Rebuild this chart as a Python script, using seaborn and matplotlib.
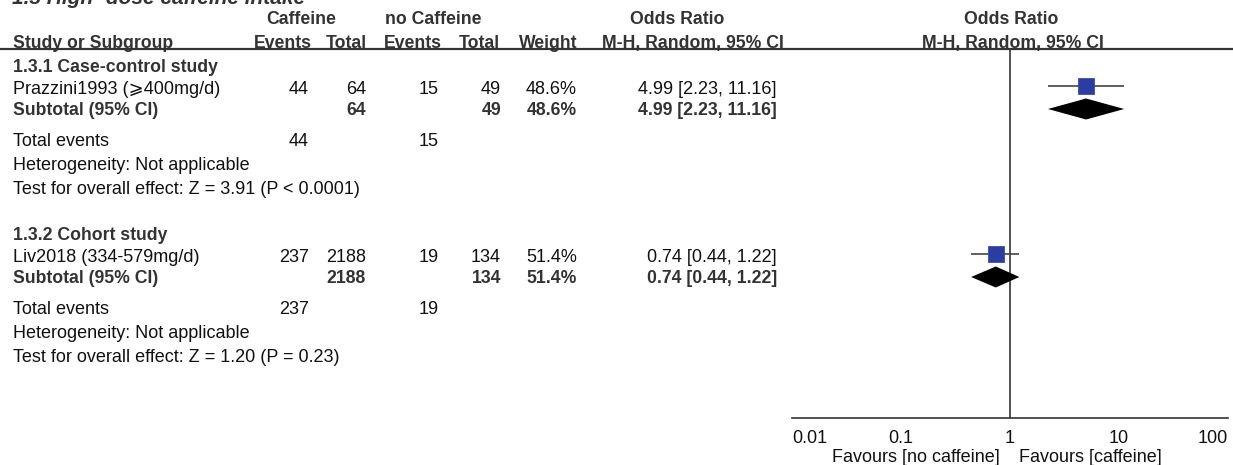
import matplotlib
matplotlib.use('Agg')
import matplotlib.pyplot as plt
import numpy as np
import pandas as pd
import seaborn as sns

# data
subgroups = ['1.3.1 Case-control study', '1.3.2 Cohort study']
studies = ['Prazzini1993 (\u2a7e400mg/d)', 'Liv2018 (334-579mg/d)']
caf_events = [44, 237]
caf_total = [64, 2188]
no_events = [15, 19]
no_total = [49, 134]
weights = [48.6, 51.4]
odds = [4.99, 0.74]
ci_low = [2.23, 0.44]
ci_high = [11.16, 1.22]
overall_tests = ['Z = 3.91 (P < 0.0001)', 'Z = 1.20 (P = 0.23)']
axis_ticks = [0.01, 0.1, 1, 10, 100]
axis_labels = ['0.01', '0.1', '1', '10', '100']
favours = ['Favours [no caffeine]', 'Favours [caffeine]']
title = '1.3 High- dose caffeine intake'

W, H = 1233, 465
TXT = '#111111'
BOLD = '#333333'
BLUE = '#2B3DA0'
FS = 13
FSB = 12.7

sns.set_style('white')
plt.rcParams['font.family'] = ['Liberation Sans', 'DejaVu Sans']

fig = plt.figure(figsize=(W / 100, H / 100), dpi=100)
ax = fig.add_axes([0, 0, 1, 1])
ax.set_xlim(0, W)
ax.set_ylim(H, 0)
ax.axis('off')


def put(x, y, s, ha='left', bold=False, size=None):
    ax.text(x, y + 6.5, s, ha=ha, va='baseline',
            fontsize=size or (FSB if bold else FS),
            fontweight='bold' if bold else 'normal',
            color=BOLD if bold else TXT)


# title (cut off at the top edge like the source)
ax.text(12, 4, title, ha='left', va='baseline', fontsize=15,
        fontweight='bold', fontstyle='italic', color=BOLD)

# header rows
put(301, 17, 'Caffeine', ha='center', bold=True)
put(433, 17, 'no Caffeine', ha='center', bold=True)
put(677, 17, 'Odds Ratio', ha='center', bold=True)
put(1011, 17, 'Odds Ratio', ha='center', bold=True)
hy = 41.5
put(13, hy, 'Study or Subgroup', bold=True)
put(312, hy, 'Events', ha='right', bold=True)
put(367, hy, 'Total', ha='right', bold=True)
put(442, hy, 'Events', ha='right', bold=True)
put(500, hy, 'Total', ha='right', bold=True)
put(577, hy, 'Weight', ha='right', bold=True)
put(693, hy, 'M-H, Random, 95% CI', ha='center', bold=True)
put(1013, hy, 'M-H, Random, 95% CI', ha='center', bold=True)
ax.plot([0, W], [49, 49], color=BOLD, lw=1.6, solid_capstyle='butt')

# table body
group_offset = 168
study_rows = []
sub_rows = []
for i in range(len(studies)):
    y0 = 65 + i * group_offset
    ci_txt = f'{odds[i]:.2f} [{ci_low[i]:.2f}, {ci_high[i]:.2f}]'
    put(13, y0, subgroups[i], bold=True)
    ys = y0 + 22
    put(13, ys, studies[i])
    put(309, ys, str(caf_events[i]), ha='right')
    put(366, ys, str(caf_total[i]), ha='right')
    put(439, ys, str(no_events[i]), ha='right')
    put(501, ys, str(no_total[i]), ha='right')
    put(577, ys, f'{weights[i]:.1f}%', ha='right')
    put(777, ys, ci_txt, ha='right')
    yt = y0 + 43
    put(13, yt, 'Subtotal (95% CI)', bold=True)
    put(366, yt, str(caf_total[i]), ha='right', bold=True)
    put(501, yt, str(no_total[i]), ha='right', bold=True)
    put(577, yt, f'{weights[i]:.1f}%', ha='right', bold=True)
    put(777, yt, ci_txt, ha='right', bold=True)
    put(13, y0 + 74, 'Total events')
    put(309, y0 + 74, str(caf_events[i]), ha='right')
    put(439, y0 + 74, str(no_events[i]), ha='right')
    put(13, y0 + 98, 'Heterogeneity: Not applicable')
    put(13, y0 + 122, 'Test for overall effect: ' + overall_tests[i])
    study_rows.append(ys - 1)
    sub_rows.append(yt + 1)

# forest panel
x0, x1, ybot, ytop = 792, 1228, 418, 49
fx = fig.add_axes([x0 / W, (H - ybot) / H, (x1 - x0) / W, (ybot - ytop) / H])
fx.patch.set_alpha(0)
fx.set_xscale('log')
fx.set_xlim(axis_ticks[0], axis_ticks[-1])
fx.set_ylim(ybot, ytop)
for side in ['top', 'left', 'right']:
    fx.spines[side].set_visible(False)
fx.spines['bottom'].set_color(BOLD)
fx.spines['bottom'].set_linewidth(1.2)
fx.set_yticks([])
fx.set_xticks(axis_ticks)
fx.set_xticklabels(axis_labels)
fx.xaxis.set_minor_locator(matplotlib.ticker.NullLocator())
fx.tick_params(axis='x', direction='inout', length=8, width=1.2, color=BOLD,
               labelsize=FS, labelcolor=TXT, pad=4.5)
labels = fx.get_xticklabels()
labels[0].set_horizontalalignment('left')
labels[-1].set_horizontalalignment('right')
fx.axvline(1, color=BOLD, lw=1.2)

df = pd.DataFrame({'odds': odds, 'row': study_rows})
fx.hlines(study_rows, ci_low, ci_high, color='#444444', lw=1.2, zorder=2)
sns.scatterplot(data=df, x='odds', y='row', marker='s', s=118, color=BLUE,
                edgecolor=BLUE, linewidth=0.5, ax=fx, zorder=3, legend=False)
for i in range(len(studies)):
    half = 10.5
    fx.fill([ci_low[i], odds[i], ci_high[i], odds[i]],
            [sub_rows[i], sub_rows[i] - half, sub_rows[i], sub_rows[i] + half],
            color='black', lw=0, zorder=3)
fx.set_xlabel('')
fx.set_ylabel('')

put(1000, 455, favours[0], ha='right')
put(1019, 455, favours[1], ha='left')

fig.savefig('out.png', dpi=100)
